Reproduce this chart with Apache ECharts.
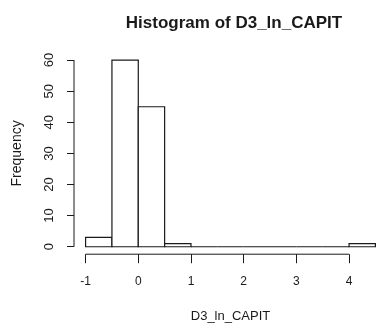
<!DOCTYPE html>
<html>
<head>
<meta charset="utf-8">
<script src="https://cdn.jsdelivr.net/npm/echarts@6/dist/echarts.min.js"></script>
<style>
  html, body { margin: 0; padding: 0; background: #fff; }
  #chart { width: 387px; height: 329px; }
</style>
</head>
<body>
<div id="chart"></div>
<script>
// Histogram bins (left edges, width 0.5) and counts
const binStarts = [-1, -0.5, 0, 0.5, 1, 1.5, 2, 2.5, 3, 3.5, 4];
const binWidth = 0.5;
const counts = [3, 60, 45, 1, 0, 0, 0, 0, 0, 0, 1];
const xTicks = [-1, 0, 1, 2, 3, 4];
const yTicks = [0, 10, 20, 30, 40, 50, 60];

const FONT = '"Liberation Sans", Arial, sans-serif';
const INK = '#1a1a1a';

// Plot region: data range padded by 4% on each side
const xLo = -1, xHi = 4.5;
const yLo = 0, yHi = 60;
const xPad = (xHi - xLo) * 0.04, yPad = (yHi - yLo) * 0.04;

const bars = binStarts.map((s, i) => [s, s + binWidth, counts[i]]);

const chart = echarts.init(document.getElementById('chart'), null, { renderer: 'canvas' });

chart.setOption({
  animation: false,
  backgroundColor: '#fff',
  title: {
    text: 'Histogram of D3_ln_CAPIT',
    left: 229, top: 10, textAlign: 'center',
    textStyle: { fontFamily: FONT, fontWeight: 'bold', fontSize: 17, color: INK }
  },
  grid: { left: 74, top: 52.6, width: 322, height: 201.6, containLabel: false },
  xAxis: {
    type: 'value',
    min: xLo - xPad, max: xHi + xPad,
    name: 'D3_ln_CAPIT', nameLocation: 'middle', nameGap: 56,
    nameTextStyle: { fontFamily: FONT, fontSize: 13, color: INK },
    axisLine: { show: true, onZero: false, lineStyle: { color: 'rgba(0,0,0,0)' } },
    splitLine: { show: false },
    axisTick: { show: true, length: 9, inside: false, customValues: xTicks,
                lineStyle: { color: INK, width: 1 } },
    axisLabel: { customValues: xTicks, margin: 21, fontFamily: FONT, fontSize: 12, color: INK }
  },
  yAxis: {
    type: 'value',
    min: yLo - yPad, max: yHi + yPad,
    name: 'Frequency', nameLocation: 'middle', nameGap: 50,
    nameTextStyle: { fontFamily: FONT, fontSize: 14, color: INK },
    axisLine: { show: true, onZero: false, lineStyle: { color: 'rgba(0,0,0,0)' } },
    splitLine: { show: false },
    axisTick: { show: true, length: 7, customValues: yTicks,
                lineStyle: { color: INK, width: 1 } },
    axisLabel: { customValues: yTicks, rotate: 90, margin: 18, fontFamily: FONT, fontSize: 13, color: INK,
                 align: 'center', verticalAlign: 'bottom' }
  },
  series: [
    {
      // histogram rectangles
      type: 'custom',
      data: bars,
      renderItem: function (params, api) {
        const p0 = api.coord([api.value(0), api.value(2)]);
        const p1 = api.coord([api.value(1), 0]);
        return {
          type: 'rect',
          shape: { x: p0[0], y: p0[1], width: p1[0] - p0[0], height: p1[1] - p0[1] },
          style: { fill: '#fff', stroke: INK, lineWidth: 1.2 }
        };
      }
    },
    {
      // axis lines spanning first to last tick
      type: 'custom',
      data: [0],
      renderItem: function (params, api) {
        const yBase = yLo - yPad, xBase = xLo - xPad;
        const a = api.coord([xTicks[0], yBase]);
        const b = api.coord([xTicks[xTicks.length - 1], yBase]);
        const c = api.coord([xBase, yTicks[0]]);
        const d = api.coord([xBase, yTicks[yTicks.length - 1]]);
        return {
          type: 'group',
          children: [
            { type: 'line', shape: { x1: a[0], y1: a[1], x2: b[0], y2: b[1] },
              style: { stroke: INK, lineWidth: 1 } },
            { type: 'line', shape: { x1: c[0], y1: c[1], x2: d[0], y2: d[1] },
              style: { stroke: INK, lineWidth: 1 } }
          ]
        };
      }
    }
  ]
});
</script>
</body>
</html>
